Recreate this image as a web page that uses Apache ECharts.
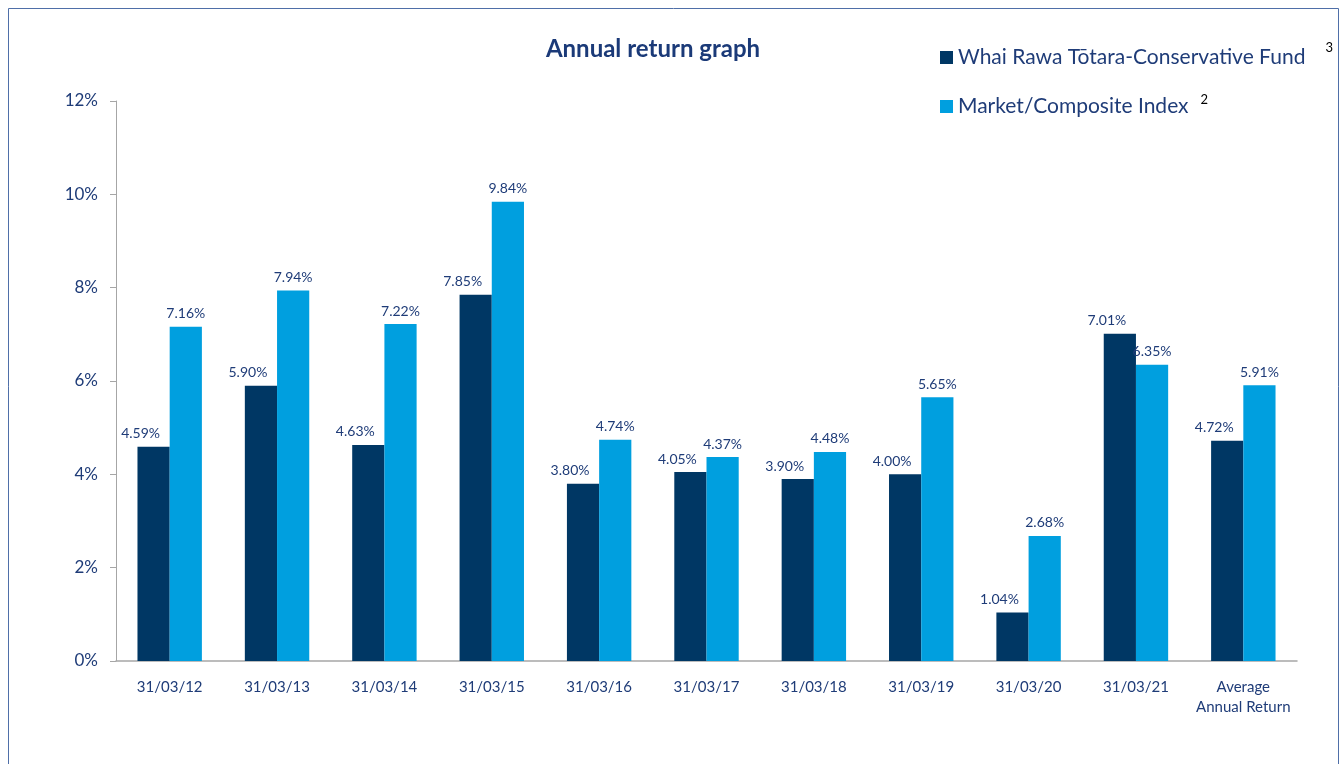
<!DOCTYPE html>
<html>
<head>
<meta charset="utf-8">
<script src="https://cdn.jsdelivr.net/npm/echarts@6/dist/echarts.min.js"></script>
<style>
html,body{margin:0;padding:0;background:#fff;}
#c{width:1343px;height:764px;}
</style>
</head>
<body>
<div id="c"></div>
<script>
const categories = ['31/03/12','31/03/13','31/03/14','31/03/15','31/03/16','31/03/17','31/03/18','31/03/19','31/03/20','31/03/21','Average\nAnnual Return'];
const fundName = 'Whai Rawa Tōtara-Conservative Fund';
const indexName = 'Market/Composite Index';
const fundValues = [4.59, 5.90, 4.63, 7.85, 3.80, 4.05, 3.90, 4.00, 1.04, 7.01, 4.72];
const indexValues = [7.16, 7.94, 7.22, 9.84, 4.74, 4.37, 4.48, 5.65, 2.68, 6.35, 5.91];
const yTicks = [0, 2, 4, 6, 8, 10, 12];

const FONT = 'Lato, "Open Sans", sans-serif';
const NAVY_TEXT = '#1F3C78';
const chart = echarts.init(document.getElementById('c'));
chart.setOption({
  animation: false,
  backgroundColor: '#fff',
  textStyle: { fontFamily: FONT },
  graphic: [{
    type: 'rect', silent: true,
    shape: { x: 8.5, y: 8.5, width: 1330, height: 800 },
    style: { fill: 'none', stroke: '#4F6FA8', lineWidth: 1 }
  }],
  title: {
    text: 'Annual return graph',
    left: 648, top: 32, textAlign: 'center',
    textStyle: { fontFamily: FONT, fontSize: 24, fontWeight: 'bold', color: '#1B3A78' }
  },
  legend: {
    orient: 'vertical', left: 935, top: 36,
    itemWidth: 13, itemHeight: 13, itemGap: 25,
    icon: 'rect',
    data: [fundName, indexName],
    formatter: function (n) {
      return n === fundName ? '{t|' + n + '}{s1|3}' : '{t|' + n + '}{s2|2}';
    },
    textStyle: {
      fontFamily: FONT,
      rich: {
        t: { fontFamily: FONT, fontSize: 21, color: NAVY_TEXT },
        s1: { fontFamily: FONT, fontSize: 13, color: '#000', padding: [0, 0, 20, 20] },
        s2: { fontFamily: FONT, fontSize: 13, color: '#000', padding: [0, 0, 14, 12] }
      }
    }
  },
  grid: { left: 116, right: 46, top: 101, bottom: 103, containLabel: false },
  xAxis: {
    type: 'category', data: categories,
    axisLine: { lineStyle: { color: '#A6A6A6', width: 1.5 } },
    axisTick: { show: false },
    axisLabel: { fontFamily: FONT, fontSize: 15, color: NAVY_TEXT, margin: 16, lineHeight: 20, interval: 0 }
  },
  yAxis: {
    type: 'value', min: 0, max: 12, interval: 2,
    axisLine: { show: true, lineStyle: { color: '#A6A6A6' } },
    axisTick: { show: true, length: 6, lineStyle: { color: '#A6A6A6' } },
    splitLine: { show: false },
    axisLabel: {
      fontFamily: FONT, fontSize: 17, color: NAVY_TEXT, margin: 18,
      formatter: function (v) { return yTicks.indexOf(v) >= 0 ? v + '%' : ''; }
    }
  },
  series: [{
    name: fundName, type: 'bar', data: fundValues,
    barGap: '0%', barCategoryGap: '40%',
    itemStyle: { color: '#003764' },
    label: {
      show: true, position: 'top', distance: 6, offset: [-13, 0],
      fontFamily: FONT, fontSize: 14, color: NAVY_TEXT,
      formatter: function (p) { return p.value.toFixed(2) + '%'; }
    }
  }, {
    name: indexName, type: 'bar', data: indexValues,
    itemStyle: { color: '#009FDF' },
    label: {
      show: true, position: 'top', distance: 6,
      fontFamily: FONT, fontSize: 14, color: NAVY_TEXT,
      formatter: function (p) { return p.value.toFixed(2) + '%'; }
    }
  }]
});
</script>
</body>
</html>
